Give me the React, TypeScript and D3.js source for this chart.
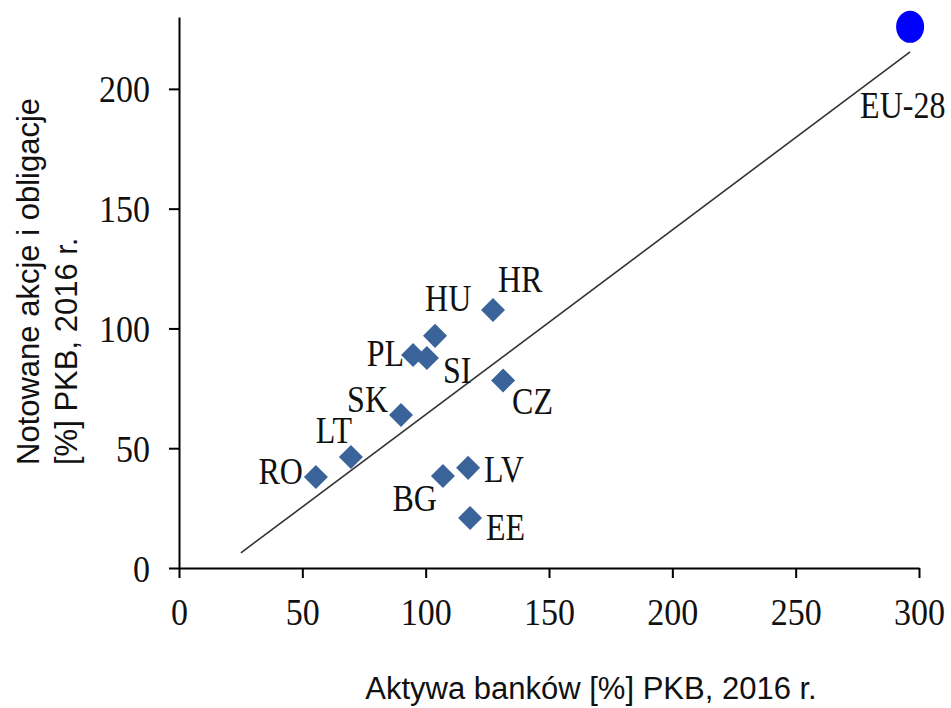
import React, { useRef, useEffect } from 'react';
import * as d3 from 'd3';

// countries and values
const countries = ['RO', 'LT', 'SK', 'PL', 'SI', 'HU', 'HR', 'CZ', 'LV', 'BG', 'EE'];
const bankAssets = [55.5, 69.7, 90.0, 94.9, 100.5, 103.8, 127.3, 131.4, 117.2, 107.0, 118.0];
const marketCap = [38.0, 46.3, 63.9, 88.9, 87.7, 96.9, 107.7, 78.3, 41.8, 38.4, 20.9];

const euLabel = 'EU-28';
const euValue = [296.4, 225.9];

// fitted line endpoints
const trendX = [25.1, 296.4];
const trendY = [6.3, 215.4];

const xTicks = [0, 50, 100, 150, 200, 250, 300];
const yTicks = [0, 50, 100, 150, 200];

// label placement relative to each marker: [anchor, dx, dy]
const labelPos: Record<string, [string, number, number]> = {
  RO: ['end', -13, 7],
  LT: ['end', 1, -14],
  SK: ['end', -13, -3],
  PL: ['end', -9, 11],
  SI: ['start', 16, 25],
  HU: ['start', -10, -25],
  HR: ['start', 5, -18],
  CZ: ['start', 9, 34],
  LV: ['start', 16, 14],
  BG: ['end', -6, 35],
  EE: ['start', 16, 22],
  'EU-28': ['start', -50, 91],
};

const App = () => {
  const ref = useRef<SVGSVGElement>(null);

  useEffect(() => {
    document.body.style.margin = '0';
    const svg = d3.select(ref.current)
      .attr('width', 951)
      .attr('height', 708)
      .style('background-color', 'white');

    svg.selectAll('*').remove();

    const serif = '"Liberation Serif", "Times New Roman", serif';
    const sans = '"Liberation Sans", Arial, sans-serif';

    const xScale = d3.scaleLinear().domain([0, 300]).range([179, 919]);
    const yScale = d3.scaleLinear().domain([0, 230]).range([568, 17]);

    // y axis
    const yAxisGroup = svg.append('g').attr('transform', `translate(${xScale(0)}, 0)`);
    yAxisGroup.call(d3.axisLeft(yScale).tickValues(yTicks).tickSize(10).tickSizeOuter(0));
    yAxisGroup.select('.domain').attr('stroke-width', 2);
    yAxisGroup.selectAll('.tick line').attr('stroke-width', 2);
    yAxisGroup.selectAll('.tick text')
      .attr('x', -29)
      .attr('dy', '0.34em')
      .attr('transform', 'scale(1,1.13)')
      .style('font-family', serif)
      .style('font-size', '34px')
      .attr('fill', '#111');

    // x axis
    const xAxisGroup = svg.append('g').attr('transform', `translate(0, ${yScale(0)})`);
    xAxisGroup.call(d3.axisBottom(xScale).tickValues(xTicks).tickSize(10).tickSizeOuter(0));
    xAxisGroup.select('.domain').attr('stroke-width', 2);
    xAxisGroup.selectAll('.tick line').attr('stroke-width', 2);
    xAxisGroup.selectAll('.tick text')
      .attr('y', 50.4)
      .attr('dy', 0)
      .attr('transform', 'scale(1,1.13)')
      .style('font-family', serif)
      .style('font-size', '34px')
      .attr('fill', '#111');

    // trend line
    const line = d3.line<number>()
      .x(d => xScale(trendX[d]))
      .y(d => yScale(trendY[d]));
    svg.append('path')
      .datum([0, 1])
      .attr('d', line)
      .style('fill', 'none')
      .style('stroke', '#333')
      .style('stroke-width', 1.6);

    // country markers
    const diamond = d3.symbol().type(d3.symbolSquare).size(289);
    svg.append('g')
      .selectAll('path')
      .data(countries)
      .enter()
      .append('path')
      .attr('d', diamond)
      .attr('transform', (d, i) => `translate(${xScale(bankAssets[i])}, ${yScale(marketCap[i])}) rotate(45)`)
      .style('fill', '#3a6499');

    // EU-28 marker
    svg.append('ellipse')
      .attr('cx', xScale(euValue[0]))
      .attr('cy', yScale(euValue[1]))
      .attr('rx', 14)
      .attr('ry', 16)
      .style('fill', '#0000ff');

    // labels
    const labels = countries.map((c, i) => ({ name: c, x: bankAssets[i], y: marketCap[i] }));
    labels.push({ name: euLabel, x: euValue[0], y: euValue[1] });
    svg.append('g')
      .selectAll('text')
      .data(labels)
      .enter()
      .append('text')
      .attr('transform', d => {
        const p = labelPos[d.name];
        return `translate(${xScale(d.x) + p[1]}, ${yScale(d.y) + p[2]}) scale(1,1.2)`;
      })
      .attr('text-anchor', d => labelPos[d.name][0])
      .style('font-family', serif)
      .style('font-size', '32px')
      .attr('fill', '#111')
      .text(d => d.name);

    // X label
    svg.append('text')
      .attr('x', 591)
      .attr('y', 699)
      .attr('text-anchor', 'middle')
      .style('font-family', sans)
      .style('font-size', '31px')
      .attr('fill', '#111')
      .text('Aktywa banków [%] PKB, 2016 r.');

    // Y label
    const yLabel = svg.append('text')
      .attr('transform', 'translate(0, 465) rotate(-90)')
      .attr('text-anchor', 'start')
      .style('font-family', sans)
      .style('font-size', '31px')
      .attr('fill', '#111');
    yLabel.append('tspan').attr('x', 0).attr('y', 39).text('Notowane akcje i obligacje');
    yLabel.append('tspan').attr('x', 0).attr('y', 77).text('[%] PKB, 2016 r.');
  }, []);

  return (
    <div>
      <svg ref={ref} style={{ display: 'block' }}></svg>
    </div>
  );
};

export default App;
